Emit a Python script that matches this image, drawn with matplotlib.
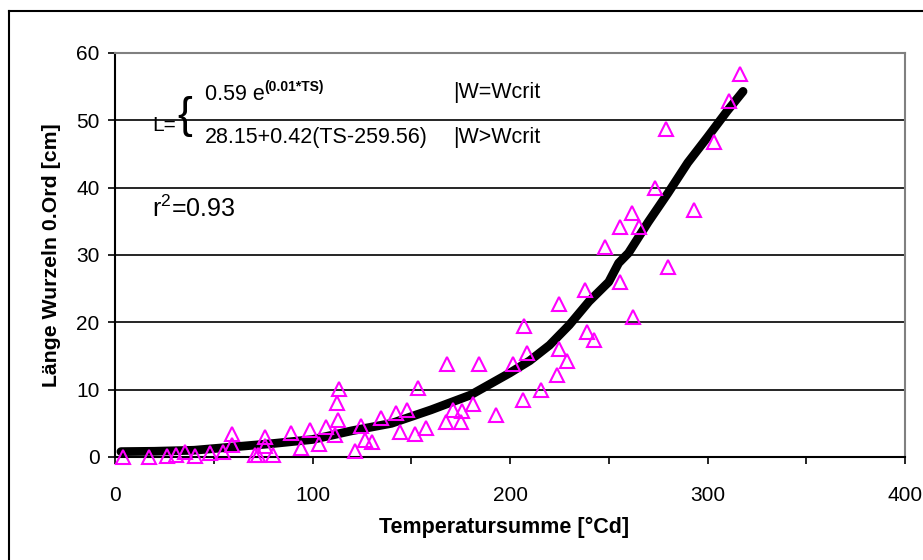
import matplotlib
matplotlib.use('Agg')
import matplotlib.pyplot as plt
from matplotlib.lines import Line2D

# measured root length vs. thermal time
ts = [4.1, 17.2, 26.3, 30.9, 35.4, 40.5, 48.1, 54.7, 59.2, 59.2,
      70.9, 72.4, 75.9, 75.9, 80.0, 89.1, 94.2, 98.7, 103.3, 106.8,
      111.4, 112.9, 112.4, 113.4, 121.5, 124.6, 126.6, 130.1, 134.7, 142.3,
      144.3, 147.8, 151.9, 153.4, 157.5, 167.6, 168.1, 171.1, 175.2, 175.7,
      181.3, 184.3, 192.9, 201.5, 206.6, 207.1, 208.6, 215.7, 223.8, 224.8,
      224.8, 228.9, 238.0, 239.0, 242.5, 248.1, 255.7, 255.7, 261.8, 262.3,
      265.3, 273.4, 279.0, 280.0, 293.2, 303.3, 310.9, 316.5]
length = [0.0, 0.0, 0.15, 0.3, 0.7, 0.15, 0.6, 0.7, 3.4, 1.8,
          0.3, 0.3, 3.0, 1.6, 0.3, 3.6, 1.3, 4.0, 1.9, 4.5,
          3.3, 5.5, 8.0, 10.1, 0.9, 4.6, 2.5, 2.2, 5.8, 6.5,
          3.7, 7.0, 3.4, 10.2, 4.3, 5.2, 13.8, 7.0, 5.2, 6.8,
          7.9, 13.8, 6.2, 13.8, 8.5, 19.5, 15.4, 10.0, 12.2, 22.7,
          16.0, 14.3, 24.8, 18.6, 17.4, 31.2, 34.2, 26.0, 36.2, 20.8,
          34.2, 40.0, 48.7, 28.2, 36.7, 46.8, 52.9, 56.9]

# model curve
fit_ts = [3, 20, 40, 60, 80, 100, 120, 140, 160, 180, 200, 210,
          220, 230, 240, 250, 255, 260, 270, 280, 290, 300, 310, 318]
fit_len = [0.8, 0.85, 1.0, 1.5, 2.0, 2.6, 3.9, 5.0, 7.0, 9.2, 12.5, 14.3,
           16.6, 19.6, 23.1, 26.0, 28.8, 30.3, 34.9, 39.2, 43.7, 47.5, 51.4, 54.3]

plt.rcParams['font.family'] = ['Liberation Sans', 'DejaVu Sans']
plt.rcParams['mathtext.fontset'] = 'custom'
plt.rcParams['mathtext.rm'] = 'Liberation Sans'
plt.rcParams['mathtext.it'] = 'Liberation Sans'
plt.rcParams['mathtext.bf'] = 'Liberation Sans:bold'

fig = plt.figure(figsize=(9.23, 5.6), dpi=100)
ax = fig.add_axes([115/923, 103/560, 790/923, 404/560])

ax.plot(fit_ts, fit_len, color='black', lw=6.3, solid_capstyle='round', zorder=3)
ax.plot(ts, length, ls='none', marker='^', ms=10, mfc='none', mec='#ff00ff',
        mew=1.5, zorder=4, clip_on=False)

ax.set_xlim(0, 400)
ax.set_ylim(0, 60)
ax.set_xticks(range(0, 401, 100))
ax.set_xticks(range(50, 400, 100), minor=True)
ax.set_yticks(range(0, 61, 10))
ax.yaxis.grid(True, color='black', lw=1.2)
ax.set_axisbelow(True)

ax.tick_params(axis='both', direction='out', length=5, width=1.2, labelsize=15)
ax.tick_params(axis='x', which='minor', direction='out', length=5, width=1.2)
ax.tick_params(axis='x', pad=16)
ax.tick_params(axis='y', pad=6)

for s in ['left', 'bottom']:
    ax.spines[s].set_color('black')
    ax.spines[s].set_linewidth(1.5)
for s in ['top', 'right']:
    ax.spines[s].set_color('#808080')
    ax.spines[s].set_linewidth(1.5)

fig.text(504/923, 1 - 527/560, 'Temperatursumme [°Cd]', fontsize=15.5,
         fontweight='bold', ha='center', va='center')
fig.text(52/923, 1 - 255/560, 'Länge Wurzeln 0.Ord [cm]', fontsize=15.3,
         fontweight='bold', ha='center', va='center', rotation=90)

# model equation
ax.text(18.7, 49.3, 'L=', fontsize=15, ha='left', va='center')
ax.text(35.2, 50.6, '{', fontsize=32, ha='center', va='center')
ax.text(45.6, 53.8, '0.59 e', fontsize=15.5, ha='left', va='center')
ax.text(75.4, 55.0, '(0.01*TS)', fontsize=10, fontweight='bold', ha='left', va='center')
ax.text(171, 54.1, '|W=Wcrit', fontsize=15.5, ha='left', va='center')
ax.text(45.6, 47.4, '28.15+0.42(TS-259.56)', fontsize=15.5, ha='left', va='center')
ax.text(171, 47.4, '|W>Wcrit', fontsize=15.5, ha='left', va='center')
ax.text(18.7, 36.9, r'r$^{2}$=0.93', fontsize=18, ha='left', va='center')

# chart frame
fig.add_artist(Line2D([9/923, 9/923], [0, 1 - 11/560], transform=fig.transFigure,
                      color='black', lw=1.5))
fig.add_artist(Line2D([9/923, 1], [1 - 11/560, 1 - 11/560], transform=fig.transFigure,
                      color='black', lw=1.5))

fig.savefig('out.png', dpi=100)
